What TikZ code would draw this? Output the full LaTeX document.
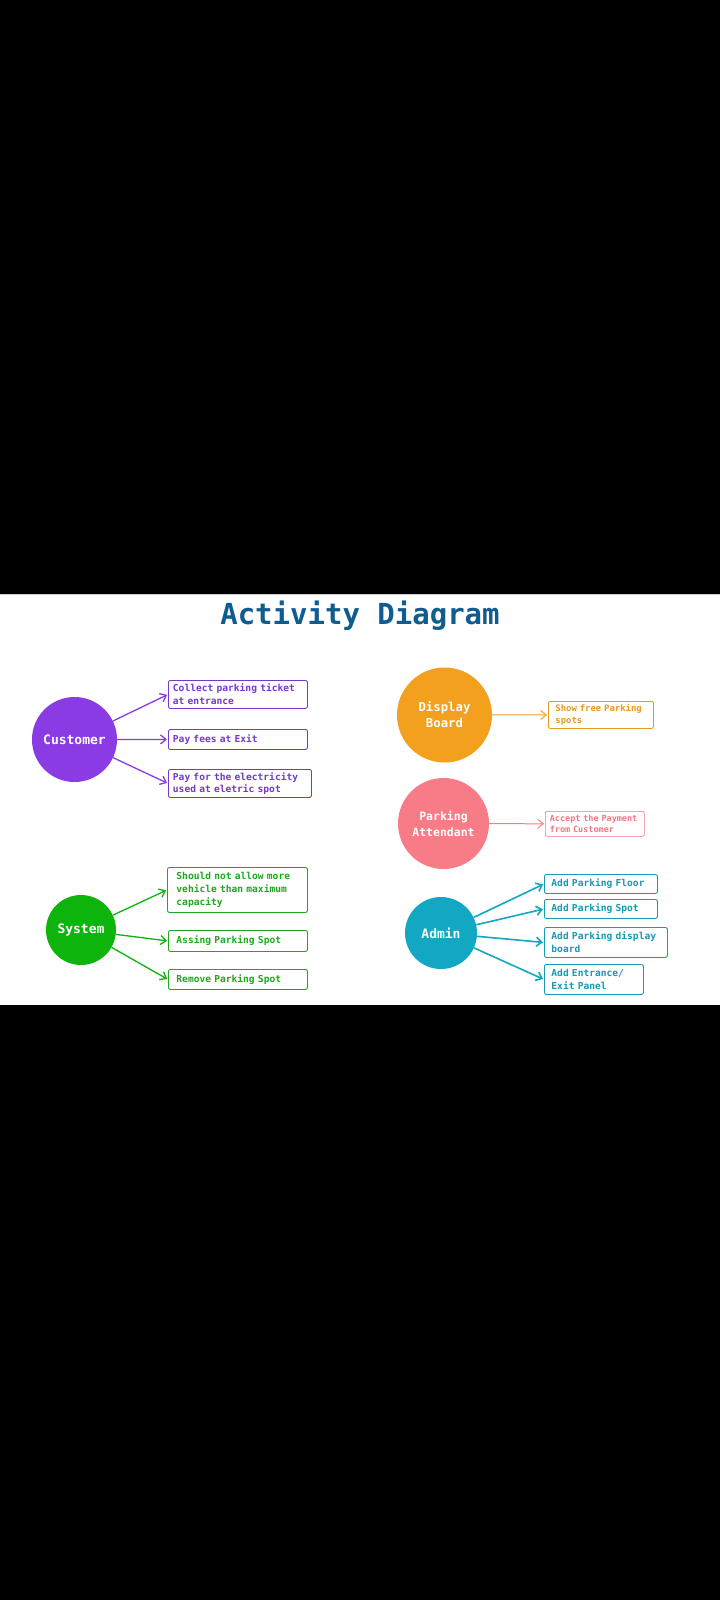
\documentclass[tikz,border=0pt]{standalone}
\usepackage{fontspec}
\newfontfamily\diagfont{DejaVu Sans Mono}
\newcommand\monospace{\spaceskip=0.602em\relax\xspaceskip=0.602em\relax}
\usetikzlibrary{arrows.meta, positioning}
\definecolor{titleBlue}{HTML}{105C8E}
\definecolor{custPurple}{HTML}{8A3BE4}
\definecolor{custText}{HTML}{7438CC}
\definecolor{dispOrange}{HTML}{F2A01E}
\definecolor{dispText}{HTML}{E69A1E}
\definecolor{attPink}{HTML}{F77C88}
\definecolor{attText}{HTML}{EE7782}
\definecolor{sysGreen}{HTML}{0CB40C}
\definecolor{sysText}{HTML}{1EA81E}
\definecolor{admTeal}{HTML}{12A7C3}
\definecolor{admText}{HTML}{1898B4}
\tikzset{
  actor/.style={circle, fill=#1, text=white, align=center, inner sep=0pt,
                font=\diagfont\bfseries\fontsize{13}{16}\selectfont},
  task/.style={rectangle, rounded corners=2pt, draw=#1, text=#1, line width=0.9pt,
               align=left, anchor=north west, inner xsep=4.5pt, inner ysep=0pt,
               font=\diagfont\bfseries\fontsize{9.6}{12.7}\selectfont\monospace},
  flow/.style={-{Straight Barb[length=5.5pt, width=9pt]}, #1, line width=1.3pt, shorten >=1pt},
}

\begin{document}
\begin{tikzpicture}[x=1pt, y=-1pt]
  \useasboundingbox (0,0) rectangle (720,1600);
  \fill[black] (0,0) rectangle (720,1600);
  \fill[white] (0,594) rectangle (720,1005);
  \draw[gray!40, line width=1pt] (0,594.5) -- (720,594.5);

  \node[font=\diagfont\bfseries\fontsize{29}{34}\selectfont, text=titleBlue] (title) at (360,616) {Activity Diagram};

  % customer
  \node[actor=custPurple, minimum size=85pt] (cust) at (74.5,739.5) {Customer};
  \node[task=custText, text width=130pt, minimum height=28pt] (c1) at (168,680) {Collect parking ticket\\at entrance};
  \node[task=custText, text width=130pt, minimum height=20pt] (c2) at (168,729) {Pay fees at Exit};
  \node[task=custText, text width=134pt, minimum height=28pt] (c3) at (168,769) {Pay for the electricity\\used at eletric spot};
  \draw[flow=custPurple] (cust) -- (c1.west);
  \draw[flow=custPurple] (cust) -- (c2.west);
  \draw[flow=custPurple] (cust) -- (c3.west);

  % display board
  \node[actor=dispOrange, minimum size=95pt, font=\diagfont\bfseries\fontsize{12.3}{16}\selectfont] (disp) at (444.5,715) {Display\\Board};
  \node[task=dispText, inner xsep=7pt, text width=91pt, minimum height=27pt,
        font=\diagfont\bfseries\fontsize{8.9}{11.5}\selectfont\monospace] (d1) at (548,701) {Show free Parking\\spots};
  \draw[flow=dispOrange, line width=1pt] (disp) -- (d1.west);

  % parking attendant
  \node[actor=attPink, minimum size=91pt, font=\diagfont\bfseries\fontsize{11.5}{16}\selectfont] (att) at (443.5,823.5) {Parking\\Attendant};
  \node[task=attText, inner xsep=4.5pt, text width=90pt, minimum height=25pt, line width=0.6pt,
        font=\diagfont\bfseries\fontsize{8.5}{11}\selectfont\monospace] (p1) at (545,811) {Accept the Payment\\from Customer};
  \draw[flow=attPink, line width=1pt] (att) -- (p1.west);

  % system
  \node[actor=sysGreen, minimum size=70pt] (sys) at (81,930) {System};
  \node[task=sysText, inner xsep=9pt, text width=122pt, minimum height=45pt] (s1) at (167,867) {Should not allow more\\vehicle than maximum\\capacity};
  \node[task=sysText, inner xsep=8pt, text width=123pt, minimum height=21pt] (s2) at (168,930) {Assing Parking Spot};
  \node[task=sysText, inner xsep=8pt, text width=123pt, minimum height=20pt] (s3) at (168,969) {Remove Parking Spot};
  \draw[flow=sysGreen] (sys) -- (s1.west);
  \draw[flow=sysGreen] (sys) -- (s2.west);
  \draw[flow=sysGreen] (sys) -- (s3.west);

  % admin
  \node[actor=admTeal, minimum size=72pt] (adm) at (441,933) {Admin};
  \node[task=admText, inner xsep=7pt, text width=99pt, minimum height=19pt] (a1) at (544,874) {Add Parking Floor};
  \node[task=admText, inner xsep=7pt, text width=99pt, minimum height=19pt] (a2) at (544,899) {Add Parking Spot};
  \node[task=admText, inner xsep=7pt, text width=109pt, minimum height=30pt] (a3) at (544,927) {Add Parking display\\board};
  \node[task=admText, inner xsep=7pt, text width=85pt, minimum height=30pt] (a4) at (544,964) {Add Entrance/\\Exit Panel};
  \draw[flow=admTeal, line width=1.6pt] (adm) -- (a1.west);
  \draw[flow=admTeal, line width=1.6pt] (adm) -- (a2.west);
  \draw[flow=admTeal, line width=1.6pt] (adm) -- (a3.west);
  \draw[flow=admTeal, line width=1.6pt] (adm) -- (a4.west);
\end{tikzpicture}
\end{document}
